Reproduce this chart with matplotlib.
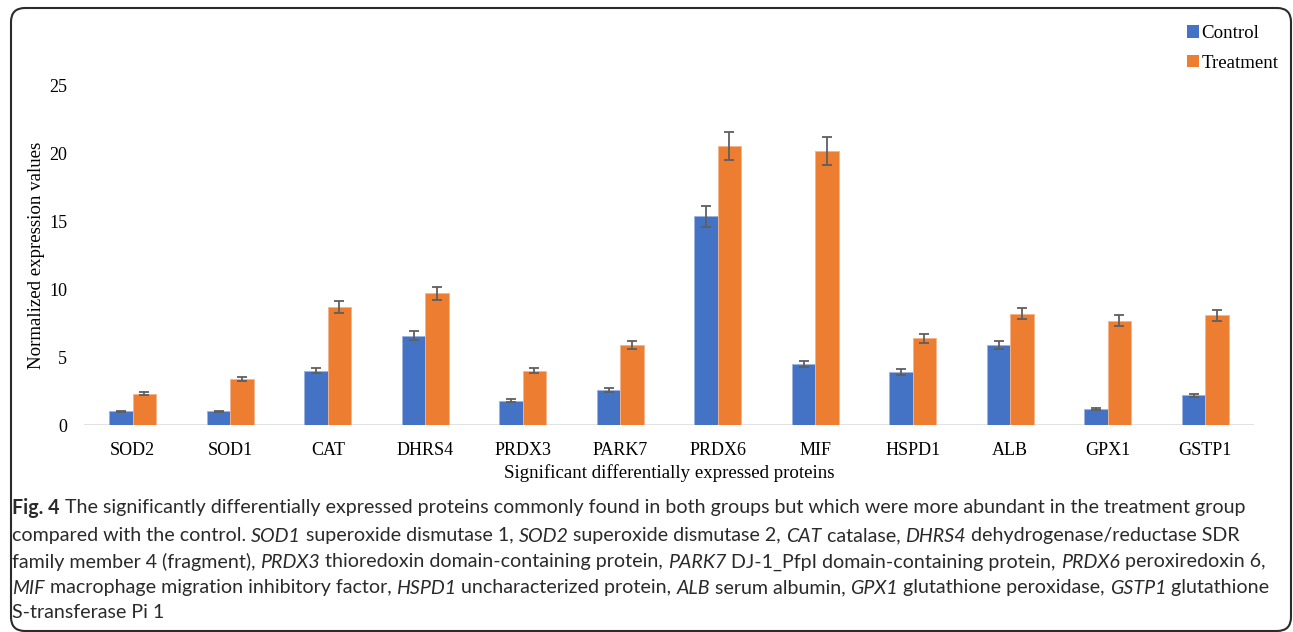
import matplotlib
matplotlib.use("Agg")
import matplotlib.pyplot as plt
import numpy as np
from matplotlib.patches import FancyBboxPatch, Patch
from matplotlib.transforms import IdentityTransform

categories = ["SOD2", "SOD1", "CAT", "DHRS4", "PRDX3", "PARK7", "PRDX6", "MIF",
              "HSPD1", "ALB", "GPX1", "GSTP1"]
control = [1.0, 1.0, 4.0, 6.6, 1.8, 2.6, 15.4, 4.5, 3.9, 5.9, 1.2, 2.2]
treatment = [2.3, 3.4, 8.7, 9.7, 4.0, 5.9, 20.6, 20.2, 6.4, 8.2, 7.7, 8.1]
control_err = [0.05, 0.05, 0.2, 0.33, 0.09, 0.13, 0.77, 0.23, 0.2, 0.3, 0.06, 0.11]
treatment_err = [0.12, 0.17, 0.44, 0.49, 0.2, 0.3, 1.03, 1.01, 0.32, 0.41, 0.39, 0.41]
yticks = [0, 5, 10, 15, 20, 25]

caption_lines = [
    [("Fig. 4", "bold"), (" The significantly differentially expressed proteins commonly found in both groups but which were more abundant in the treatment group", "normal")],
    [("compared with the control. ", "normal"), ("SOD1", "italic"), (" superoxide dismutase 1, ", "normal"), ("SOD2", "italic"),
     (" superoxide dismutase 2, ", "normal"), ("CAT", "italic"), (" catalase, ", "normal"), ("DHRS4", "italic"),
     (" dehydrogenase/reductase SDR", "normal")],
    [("family member 4 (fragment), ", "normal"), ("PRDX3", "italic"), (" thioredoxin domain-containing protein, ", "normal"),
     ("PARK7", "italic"), (" DJ-1_PfpI domain-containing protein, ", "normal"), ("PRDX6", "italic"), (" peroxiredoxin 6,", "normal")],
    [("MIF", "italic"), (" macrophage migration inhibitory factor, ", "normal"), ("HSPD1", "italic"), (" uncharacterized protein, ", "normal"),
     ("ALB", "italic"), (" serum albumin, ", "normal"), ("GPX1", "italic"), (" glutathione peroxidase, ", "normal"),
     ("GSTP1", "italic"), (" glutathione", "normal")],
    [("S-transferase Pi 1", "normal")],
]

W, H = 1293, 632
fig = plt.figure(figsize=(W / 100, H / 100), dpi=100)
serif = "Liberation Serif"

ax = fig.add_axes([84 / W, 1 - 425 / H, (1254 - 84) / W, (425 - 86) / H])
x = np.arange(len(categories))
bw = 0.24
ax.bar(x - bw / 2, control, bw, color="#4472C4", edgecolor="#9DB4E0", linewidth=0.6, label="Control", zorder=2)
ax.bar(x + bw / 2, treatment, bw, color="#ED7D31", edgecolor="#F5B48A", linewidth=0.6, label="Treatment", zorder=2)
ax.errorbar(x - bw / 2, control, yerr=control_err, fmt="none", ecolor="#5f5f5f", elinewidth=1.3, capsize=3.5, capthick=1.3, zorder=3)
ax.errorbar(x + bw / 2, treatment, yerr=treatment_err, fmt="none", ecolor="#5f5f5f", elinewidth=1.3, capsize=3.5, capthick=1.3, zorder=3)
ax.axhline(0, color="#D9D9D9", lw=1.8, zorder=1)
ax.set_xlim(-0.5, len(categories) - 0.5)
ax.set_ylim(0, 25)
ax.set_yticks(yticks)
ax.set_xticks(x)
ax.set_xticklabels(categories, fontfamily=serif, fontsize=13)
ax.set_yticklabels([str(v) for v in yticks], fontfamily=serif, fontsize=13)
ax.tick_params(length=0, pad=12)
ax.tick_params(axis="y", pad=12)
for s in ax.spines.values():
    s.set_visible(False)
ax.set_ylabel("Normalized expression values", fontfamily=serif, fontsize=13.6, labelpad=3)
ax.set_xlabel("Significant differentially expressed proteins", fontfamily=serif, fontsize=13.6, labelpad=4)

handles = [Patch(facecolor="#4472C4", label="Control"), Patch(facecolor="#ED7D31", label="Treatment")]
fig.legend(handles=handles, loc="upper left", bbox_to_anchor=(1179 / W, 1 - 17 / H), frameon=False,
           prop={"family": serif, "size": 13.6}, handlelength=0.68, handleheight=0.68, handletextpad=0.1,
           labelspacing=0.68, borderaxespad=0)

# rounded frame
box = FancyBboxPatch((11, 1), 1280, H - 9, boxstyle="round,pad=0,rounding_size=14",
                     transform=IdentityTransform(), fill=False, edgecolor="#2b2b2b", linewidth=1.5)
fig.patches.append(box)

# caption with mixed styles
cap_font = "Lato"
cap_color = "#2a2a2a"
fig.canvas.draw()
renderer = fig.canvas.get_renderer()

def line_width(runs, size):
    tot = 0
    for txt, st in runs:
        t = fig.text(0, 0, txt, fontfamily=cap_font, fontsize=size,
                     fontweight="bold" if st == "bold" else "normal",
                     fontstyle="italic" if st == "italic" else "normal")
        tot += t.get_window_extent(renderer).width
        t.remove()
    return tot

base = 14
w0 = line_width(caption_lines[0], base)
size = base * 1236 / w0
ys = [508, 536, 562, 588, 613]
for runs, yc in zip(caption_lines, ys):
    xp = 12
    for txt, st in runs:
        t = fig.text(xp / W, 1 - yc / H, txt, fontfamily=cap_font, fontsize=size,
                     fontweight="bold" if st == "bold" else "normal",
                     fontstyle="italic" if st == "italic" else "normal",
                     color=cap_color, va="center", ha="left")
        xp += t.get_window_extent(renderer).width

fig.savefig("out.png", dpi=100)
